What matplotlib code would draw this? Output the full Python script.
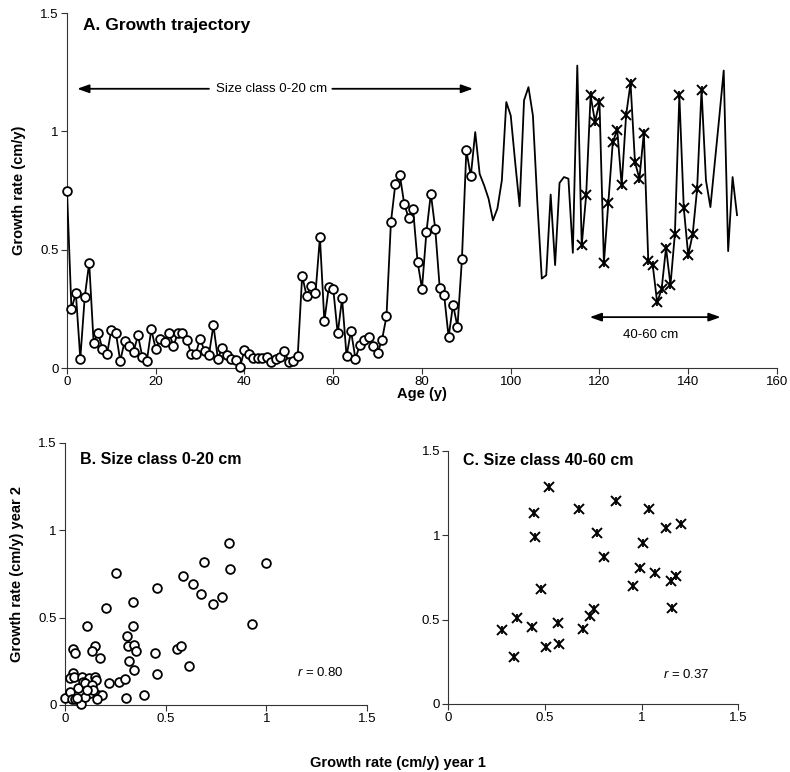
import numpy as np
import matplotlib.pyplot as plt

plt.rcParams['font.family'] = ['Liberation Sans', 'DejaVu Sans']
plt.rcParams['mathtext.fontset'] = 'custom'
plt.rcParams['mathtext.rm'] = 'Liberation Sans'
plt.rcParams['mathtext.it'] = 'Liberation Sans:italic'

# A. annual growth rate (cm/y), one value per year of age starting at 0
growth = [
    0.75, 0.25, 0.315, 0.04, 0.30, 0.445, 0.107, 0.15, 0.08, 0.058,
    0.16, 0.15, 0.03, 0.114, 0.094, 0.069, 0.138, 0.045, 0.031, 0.163,
    0.08, 0.122, 0.112, 0.148, 0.093, 0.149, 0.148, 0.118, 0.06, 0.059,
    0.124, 0.072, 0.057, 0.18, 0.04, 0.086, 0.055, 0.038, 0.035, 0.005,
    0.076, 0.06, 0.044, 0.041, 0.041, 0.048, 0.024, 0.04, 0.046, 0.072,
    0.024, 0.028, 0.052, 0.39, 0.305, 0.346, 0.315, 0.553, 0.198, 0.342,
    0.335, 0.146, 0.294, 0.05, 0.157, 0.04, 0.097, 0.118, 0.131, 0.094,
    0.063, 0.12, 0.218, 0.616, 0.778, 0.817, 0.693, 0.633, 0.67, 0.45,
    0.335, 0.574, 0.737, 0.586, 0.338, 0.307, 0.131, 0.268, 0.174, 0.459,
    0.92, 0.81, 0.997, 0.82, 0.772, 0.716, 0.624, 0.674, 0.793, 1.124,
    1.067, 0.87, 0.684, 1.131, 1.187, 1.067, 0.70, 0.378, 0.392, 0.733,
    0.435, 0.782, 0.807, 0.80, 0.487, 1.278, 0.519, 0.73, 1.152, 1.04,
    1.124, 0.444, 0.698, 0.955, 1.007, 0.772, 1.068, 1.204, 0.87, 0.80,
    0.994, 0.453, 0.435, 0.277, 0.333, 0.508, 0.35, 0.568, 1.152, 0.676,
    0.477, 0.565, 0.755, 1.175, 0.793, 0.68, 0.87, 1.06, 1.257, 0.494,
    0.807, 0.646,
]
small_class = (0, 91)     # ages marked with circles (0-20 cm)
large_class = (116, 143)  # ages marked with stars (40-60 cm)

# B. size class 0-20 cm, year 1 vs year 2
b_year1 = [0.815, 1.0, 0.692, 0.82, 0.253, 0.588, 0.637, 0.455, 0.675, 0.781,
           0.737, 0.339, 0.202, 0.108, 0.339, 0.929, 0.31, 0.311, 0.341, 0.351,
           0.149, 0.132, 0.038, 0.05, 0.174, 0.316, 0.447, 0.555, 0.578, 0.618,
           0.344, 0.459, 0.22, 0.268, 0.298, 0.301, 0.394,
           0.041, 0.025, 0.046, 0.083, 0.121, 0.149, 0.154, 0.088, 0.066, 0.099,
           0.132, 0.124, 0.166, 0.182, 0.0, 0.025, 0.036, 0.05, 0.079, 0.099,
           0.161, 0.058, 0.141, 0.108]
b_year2 = [0.924, 0.812, 0.818, 0.78, 0.753, 0.738, 0.692, 0.671, 0.637, 0.617,
           0.576, 0.587, 0.556, 0.452, 0.454, 0.461, 0.396, 0.337, 0.343, 0.311,
           0.339, 0.311, 0.32, 0.295, 0.271, 0.253, 0.299, 0.318, 0.335, 0.221,
           0.202, 0.177, 0.124, 0.133, 0.147, 0.042, 0.057,
           0.185, 0.152, 0.162, 0.162, 0.152, 0.162, 0.143, 0.133, 0.099, 0.124,
           0.114, 0.067, 0.057, 0.057, 0.042, 0.076, 0.032, 0.032, 0.006, 0.048,
           0.032, 0.042, 0.086, 0.086]
b_r = "0.80"

# C. size class 40-60 cm, year 1 vs year 2
c_year1 = [0.276, 0.34, 0.353, 0.434, 0.445, 0.45, 0.479, 0.505, 0.521, 0.566,
           0.574, 0.678, 0.698, 0.733, 0.755, 0.767, 0.803, 0.867, 0.957, 0.991,
           1.009, 1.04, 1.069, 1.126, 1.152, 1.176, 1.155, 1.202]
c_year2 = [0.438, 0.28, 0.507, 0.454, 1.129, 0.991, 0.679, 0.339, 1.287, 0.482,
           0.353, 1.153, 0.444, 0.523, 0.562, 1.01, 0.868, 1.204, 0.701, 0.807,
           0.955, 1.153, 0.774, 1.04, 0.728, 0.758, 0.57, 1.066]
c_r = "0.37"

TICK_FS = 9.5
LABEL_FS = 10.5
NOTE_FS = 9.5


def style_axes(ax):
    for side in ("top", "right"):
        ax.spines[side].set_visible(False)
    for side in ("left", "bottom"):
        ax.spines[side].set_linewidth(0.8)
        ax.spines[side].set_color("#333333")
    ax.tick_params(direction="out", length=4, width=0.8, color="#333333",
                   labelsize=TICK_FS, pad=2)


def fmt(v):
    return "%g" % v


def circles(ax, x, y):
    ax.plot(x, y, "o", ls="none", ms=6.3, mfc="white", mec="black", mew=1.3,
            zorder=4, clip_on=False)


def stars(ax, x, y):
    # Excel-style star: an x with a short vertical stroke
    ax.plot(x, y, "x", ls="none", ms=7.3, mec="black", mew=1.4, zorder=4, clip_on=False)
    ax.plot(x, y, "|", ls="none", ms=6, mec="black", mew=1.3, zorder=4, clip_on=False)


fig = plt.figure(figsize=(7.9, 7.72), dpi=100)

# ---- A. growth trajectory
ax = fig.add_axes([0.0848, 0.5233, 0.8987, 0.4598])
style_axes(ax)
age = np.arange(len(growth))
g = np.array(growth)
ax.plot(age, g, color="black", lw=1.3, zorder=3)
s0, s1 = small_class
circles(ax, age[s0:s1 + 1], g[s0:s1 + 1])
l0, l1 = large_class
stars(ax, age[l0:l1 + 1], g[l0:l1 + 1])
ax.set_xlim(0, 160)
ax.set_ylim(0, 1.5)
ax.set_xticks(range(0, 161, 20))
ax.set_yticks([0, 0.5, 1, 1.5])
ax.set_yticklabels([fmt(v) for v in [0, 0.5, 1, 1.5]])
ax.set_xlabel("Age (y)", fontsize=LABEL_FS, fontweight="bold", labelpad=-1)
ax.set_ylabel("Growth rate (cm/y)", fontsize=LABEL_FS, fontweight="bold", labelpad=10)
ax.text(3.6, 1.447, "A. Growth trajectory", fontsize=12.5, fontweight="bold",
        ha="left", va="center")

arrow = dict(arrowstyle="-|>,head_length=0.7,head_width=0.25", color="black", lw=1.3,
             shrinkA=0, shrinkB=0)
ax.annotate("", xy=(2.3, 1.18), xytext=(32.0, 1.18), arrowprops=arrow)
ax.annotate("", xy=(91.5, 1.18), xytext=(59.8, 1.18), arrowprops=arrow)
ax.text(46, 1.18, "Size class 0-20 cm", fontsize=NOTE_FS, ha="center", va="center")
arrow2 = dict(arrowstyle="<|-|>,head_length=0.7,head_width=0.25", color="black", lw=1.3,
              shrinkA=0, shrinkB=0)
ax.annotate("", xy=(117.8, 0.215), xytext=(147.3, 0.215), arrowprops=arrow2)
ax.text(131.5, 0.14, "40-60 cm", fontsize=NOTE_FS, ha="center", va="center")

# ---- B. 0-20 cm scatter
axb = fig.add_axes([0.0823, 0.0868, 0.3823, 0.3398])
style_axes(axb)
circles(axb, b_year1, b_year2)
axb.set_xlim(0, 1.5)
axb.set_ylim(0, 1.5)
ticks = [0, 0.5, 1, 1.5]
axb.set_xticks(ticks)
axb.set_xticklabels([fmt(v) for v in ticks])
axb.set_yticks(ticks)
axb.set_yticklabels([fmt(v) for v in ticks])
axb.text(0.074, 1.406, "B. Size class 0-20 cm", fontsize=11.5, fontweight="bold",
         ha="left", va="center")
axb.text(1.27, 0.185, r"$\it{r}$ = " + b_r, fontsize=NOTE_FS, ha="center", va="center")
axb.set_ylabel("Growth rate (cm/y) year 2", fontsize=LABEL_FS, fontweight="bold",
               labelpad=10)

# ---- C. 40-60 cm scatter
axc = fig.add_axes([0.5675, 0.0881, 0.367, 0.328])
style_axes(axc)
stars(axc, c_year1, c_year2)
axc.set_xlim(0, 1.5)
axc.set_ylim(0, 1.5)
axc.set_xticks(ticks)
axc.set_xticklabels([fmt(v) for v in ticks])
axc.set_yticks(ticks)
axc.set_yticklabels([fmt(v) for v in ticks])
axc.text(0.078, 1.44, "C. Size class 40-60 cm", fontsize=11.5, fontweight="bold",
         ha="left", va="center")
axc.text(1.233, 0.176, r"$\it{r}$ = " + c_r, fontsize=NOTE_FS, ha="center", va="center")

fig.text(398 / 790, 1 - 763 / 772, "Growth rate (cm/y) year 1", fontsize=LABEL_FS,
         fontweight="bold", ha="center", va="center")

fig.savefig("out.png", dpi=100)
